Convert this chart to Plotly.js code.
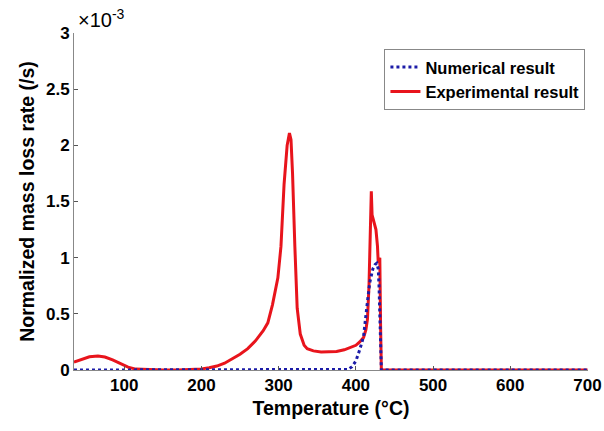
<!DOCTYPE html>
<html>
<head>
<meta charset="utf-8">
<script src="https://cdn.plot.ly/plotly-3.0.1.min.js"></script>
<style>html,body{margin:0;padding:0;background:#fff;}#chart{width:604px;height:431px;}</style>
</head>
<body>
<div id="chart"></div>
<script>
// Values in units of 1e-3 /s
const expTemp = [35, 45, 55, 66, 75, 85, 95, 105, 115, 130, 150, 170, 190, 200, 210, 220, 230, 240, 250, 260, 270, 280, 286, 292, 299, 303, 307, 311, 314, 316, 318, 321, 324, 328, 333, 337, 345, 355, 365, 375, 385, 393, 400, 405, 410, 413, 415, 417, 418, 419, 420, 421, 423, 426, 428, 429, 430, 431, 432, 433, 435, 450, 500, 550, 600, 650, 700];
const expRate = [0.07, 0.095, 0.118, 0.125, 0.115, 0.09, 0.055, 0.025, 0.008, 0.002, 0, 0, 0.005, 0.01, 0.02, 0.035, 0.06, 0.1, 0.14, 0.19, 0.26, 0.35, 0.42, 0.58, 0.82, 1.1, 1.65, 2.0, 2.11, 2.05, 1.75, 1.1, 0.55, 0.32, 0.22, 0.19, 0.17, 0.16, 0.16, 0.165, 0.18, 0.2, 0.22, 0.25, 0.29, 0.36, 0.45, 0.75, 1.1, 1.45, 1.59, 1.38, 1.33, 1.25, 1.1, 0.95, 0.97, 1.0, 0.4, 0.0, 0, 0, 0, 0, 0, 0, 0];
const numTemp = [35, 100, 200, 300, 390, 395, 400, 405, 410, 414, 418, 422, 425, 427, 429, 430, 431, 432, 433, 440, 500, 600, 700];
const numRate = [0, 0, 0, 0, 0.005, 0.03, 0.08, 0.18, 0.3, 0.55, 0.78, 0.9, 0.94, 0.95, 0.9, 0.75, 0.5, 0.2, 0, 0, 0, 0, 0];
const xTicks = [100, 200, 300, 400, 500, 600, 700];
const yTicks = [0, 0.5, 1, 1.5, 2, 2.5, 3];
const yTickText = ['0', '0.5', '1', '1.5', '2', '2.5', '3'];

const fontFam = '"Liberation Sans", Arial, sans-serif';
const traces = [
  {x: expTemp, y: expRate, type: 'scatter', mode: 'lines', name: 'Experimental result',
   line: {color: '#e8141c', width: 3}, legendrank: 2},
  {x: numTemp, y: numRate, type: 'scatter', mode: 'lines', name: 'Numerical result',
   line: {color: '#1c1ca8', width: 3, dash: 'dot'}, legendrank: 1}
];
const layout = {
  width: 604, height: 431,
  margin: {l: 74, r: 16, t: 33, b: 61},
  paper_bgcolor: '#fff', plot_bgcolor: '#fff',
  showlegend: true,
  legend: {x: 0.995, xanchor: 'right', y: 0.953, yanchor: 'top',
    bgcolor: '#fff', bordercolor: '#888', borderwidth: 1,
    font: {family: fontFam, size: 16.5, color: '#000', weight: 'bold'},
    tracegroupgap: 0},
  xaxis: {range: [35, 700.6], tickvals: xTicks, ticks: 'inside', ticklen: 4, tickcolor: '#555',
    showline: true, linecolor: '#888', linewidth: 1, showgrid: false, zeroline: false,
    tickfont: {family: fontFam, size: 17, color: '#000', weight: 'bold'},
    title: {text: 'Temperature (°C)', font: {family: fontFam, size: 19.5, color: '#000', weight: 'bold'}, standoff: 6}},
  yaxis: {range: [0, 3], tickvals: yTicks, ticktext: yTickText, ticks: 'inside', ticklen: 4, tickcolor: '#555',
    showline: true, linecolor: '#888', linewidth: 1, showgrid: false, zeroline: false,
    tickfont: {family: fontFam, size: 17, color: '#000', weight: 'bold'},
    title: {text: 'Normalized mass loss rate (/s)', font: {family: fontFam, size: 19.5, color: '#000', weight: 'bold'}, standoff: 6}},
  annotations: [{xref: 'paper', yref: 'paper', x: 0.003, y: 1.0, xanchor: 'left', yanchor: 'bottom',
    text: '×10<sup>-3</sup>', showarrow: false,
    font: {family: fontFam, size: 20, color: '#000'}}]
};
Plotly.newPlot('chart', traces, layout, {displayModeBar: false, staticPlot: true});
</script>
</body>
</html>
